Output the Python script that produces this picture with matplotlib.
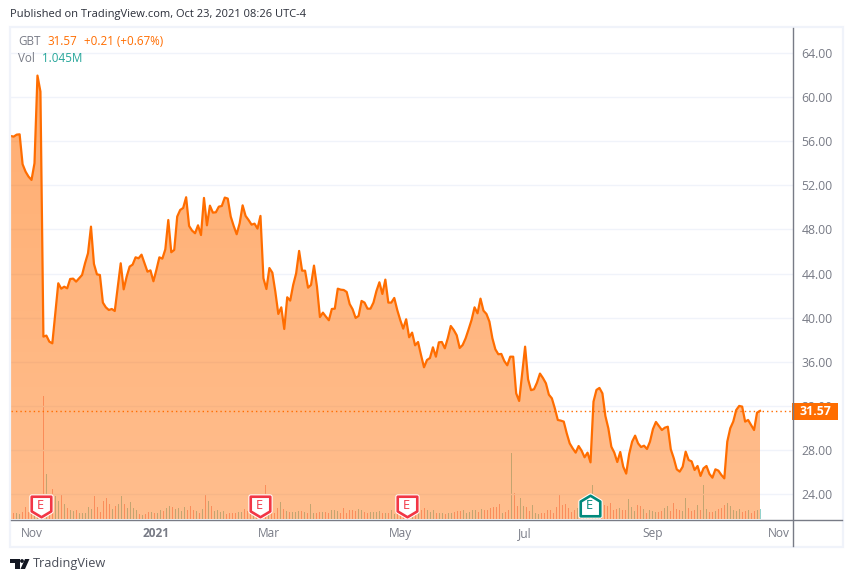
import matplotlib
matplotlib.use("Agg")
import matplotlib.pyplot as plt
import numpy as np
from matplotlib.path import Path
from matplotlib.patches import Polygon, Rectangle, Circle
from matplotlib.transforms import blended_transform_factory

# daily closes
closes = [
    56.47, 56.41, 56.59, 56.62, 53.91, 53.24, 52.79, 52.49, 54.0, 61.94, 60.49, 38.3, 38.39, 37.84, 37.69,
    40.41, 43.13, 42.64, 42.82, 42.67, 43.52, 43.55, 43.28, 43.58, 43.88, 44.94, 45.85, 48.26, 44.88, 43.94,
    43.88, 41.38, 40.95, 40.71, 40.8, 40.62, 42.82, 44.94, 42.58, 43.73, 44.64, 44.82, 45.48, 45.39, 45.72,
    44.94, 44.18, 44.3, 43.31, 44.34, 45.48, 45.36, 46.2, 48.86, 45.94, 46.15, 49.17, 49.77, 49.95, 50.92,
    48.32, 47.9, 47.66, 48.38, 47.5, 50.86, 48.38, 50.16, 49.53, 49.56, 50.07, 50.13, 50.89, 50.8, 49.17,
    48.32, 47.57, 48.56, 50.19, 49.23, 48.86, 48.44, 48.53, 48.08, 49.23, 43.58, 42.61, 44.51, 44.09, 42.37,
    40.35, 40.95, 38.99, 41.86, 41.56, 42.98, 44.03, 46.06, 44.27, 44.27, 42.73, 42.98, 44.73, 42.83, 40.07,
    40.47, 40.11, 39.78, 40.8, 40.83, 42.64, 42.55, 42.52, 42.34, 41.25, 40.77, 39.99, 40.17, 41.53, 41.38,
    40.83, 40.83, 41.38, 42.43, 43.22, 42.16, 43.46, 41.38, 41.38, 41.8, 40.71, 39.81, 39.02, 39.87, 38.24,
    38.66, 37.51, 37.81, 36.63, 35.52, 36.18, 36.36, 37.33, 36.48, 37.78, 37.81, 37.24, 38.15, 39.26, 38.9,
    38.42, 37.27, 37.54, 38.15, 38.96, 39.81, 40.95, 40.41, 41.74, 40.65, 40.35, 39.66, 38.15, 37.15, 36.7,
    36.73, 36.09, 35.7, 36.48, 36.48, 33.16, 32.47, 34.97, 37.39, 34.43, 33.45, 33.53, 34.13, 34.95, 34.55,
    34.07, 33.04, 32.71, 31.8, 30.75, 30.69, 30.6, 29.54, 28.63, 28.18, 27.79, 28.39, 27.97, 27.37, 27.79,
    26.91, 32.41, 33.47, 33.65, 33.16, 31.11, 29.99, 28.33, 27.79, 26.94, 27.85, 26.52, 25.89, 27.67, 28.79,
    29.33, 28.63, 28.3, 28.42, 28.12, 28.79, 29.93, 30.57, 30.2, 29.84, 30.05, 30.14, 28.09, 27.28, 26.28,
    26.07, 26.52, 27.88, 27.12, 27.0, 26.22, 26.58, 25.68, 26.37, 26.58, 25.86, 25.52, 26.28, 26.16, 25.77,
    25.46, 28.79, 30.0, 30.6, 31.65, 32.02, 31.96, 30.6, 30.75, 30.29, 29.84, 31.41, 31.57,
]

# volume in millions
volumes = [
    0.6, 0.63, 0.63, 0.53, 0.73, 1.23, 0.73, 0.67, 0.67, 0.5, 0.6, 12.33, 4.53, 0.6, 3.03, 2.27, 1.83, 2.43,
    1.53, 1.1, 0.9, 0.83, 0.93, 0.63, 0.63, 0.63, 1.23, 1.03, 2.33, 1.23, 0.73, 1.83, 2.13, 1.53, 1.03, 1.33,
    1.53, 2.33, 1.53, 1.13, 1.73, 1.13, 0.93, 0.53, 0.43, 0.53, 0.73, 0.73, 0.63, 0.63, 0.93, 0.83, 1.13, 1.33,
    1.23, 1.03, 1.13, 0.83, 1.23, 0.93, 1.33, 0.93, 0.83, 0.63, 1.03, 2.53, 1.83, 1.33, 0.83, 0.93, 0.73, 0.83,
    0.53, 0.63, 0.63, 0.63, 0.73, 0.73, 1.03, 0.83, 0.83, 0.93, 0.63, 0.6, 0.63, 3.43, 0.63, 0.63, 0.63, 1.13,
    1.73, 1.0, 0.8, 0.67, 0.73, 0.73, 0.83, 0.83, 0.73, 0.6, 1.5, 0.6, 0.6, 0.7, 0.73, 0.73, 0.6, 0.93, 0.93,
    0.83, 0.6, 1.13, 0.6, 0.93, 0.93, 0.83, 1.03, 0.93, 0.73, 0.63, 0.7, 0.73, 0.73, 0.83, 0.6, 0.6, 0.63, 0.93,
    0.53, 0.8, 0.6, 0.43, 0.33, 0.6, 0.53, 0.6, 1.0, 0.93, 1.13, 0.93, 0.73, 0.93, 0.6, 0.63, 0.63, 0.53, 0.6,
    0.63, 0.7, 0.8, 0.83, 0.87, 0.6, 0.7, 0.93, 0.93, 0.73, 1.03, 0.93, 0.93, 1.1, 1.23, 1.23, 1.53, 0.63, 0.73,
    0.93, 6.63, 2.63, 1.33, 2.13, 1.33, 1.23, 0.83, 1.43, 0.63, 0.53, 0.63, 0.63, 0.93, 0.93, 0.63, 1.23, 2.53,
    1.43, 1.53, 1.13, 0.73, 0.93, 1.13, 1.3, 1.0, 1.0, 1.1, 3.43, 1.1, 1.27, 0.87, 1.43, 1.33, 1.63, 0.87, 1.03,
    1.13, 0.93, 0.93, 2.03, 1.23, 0.83, 1.43, 1.33, 1.03, 0.63, 0.93, 0.83, 0.73, 0.73, 0.83, 1.13, 1.33, 0.83,
    1.63, 1.03, 0.93, 0.83, 2.13, 1.13, 0.83, 0.93, 1.4, 0.93, 3.43, 1.03, 0.73, 0.73, 0.83, 1.03, 1.13, 1.4,
    1.63, 1.33, 0.93, 0.83, 1.03, 0.73, 0.83, 0.93, 0.6, 0.83, 0.93, 1.03,
]

price_ticks = [24, 28, 32, 36, 40, 44, 48, 52, 56, 60, 64]
date_labels = ["Nov", "2021", "Mar", "May", "Jul", "Sep", "Nov"]
date_bars = [7, 48.4, 86, 130, 171.5, 214, 256]
earnings_red = [10, 83, 132]
earnings_green = [193]
last_price = 31.57

plt.rcParams["font.family"] = ["Open Sans", "DejaVu Sans"]

GREY = "#787B86"
ORANGE = "#FF6D00"
TEAL = "#26A69A"
GRID = "#F0F3FA"

fig = plt.figure(figsize=(8.52, 5.82), dpi=100)
fig.patch.set_facecolor("white")

# volume sits underneath, the price area goes on top of it
vax = fig.add_axes([11 / 852, (582 - 519) / 582, 781.5 / 852, 492 / 582])
ax = vax.twinx()
c = np.array(closes)
x = np.arange(len(closes))

# closes run from px 10.7 to px 760, the volume bars and dates are 3 px a bar
step = 749.3 / (len(closes) - 1)
k = 3 / step
x_vol = np.arange(len(volumes)) * k

vol_colors = []
for i in x_vol:
    j = min(int(round(i)), len(closes) - 1)
    vol_colors.append(TEAL if j == 0 or c[j] >= c[j - 1] else "#EF5350")
vax.bar(x_vol, volumes, width=1 / step, color=vol_colors, alpha=0.5, linewidth=0)
vax.set_ylim(0, 49.2)
vax.set_yticks([])
vax.tick_params(axis="x", length=0, pad=6, labelsize=8.6, labelcolor=GREY)
vax.set_xticks(np.array(date_bars) * k)
vax.set_xticklabels(date_labels)
vax.get_xticklabels()[1].set_fontweight("bold")

# area with a slight vertical fade
grad = np.zeros((64, 1, 4))
grad[..., :3] = matplotlib.colors.to_rgb(ORANGE)
grad[..., 3] = np.linspace(0.56, 0.45, 64)[:, None]
im = ax.imshow(grad, extent=(x[0], x[-1], 21.78, c.max()), origin="upper", aspect="auto", zorder=2)
poly = Polygon(np.r_[np.c_[x, c], [[x[-1], 21.78], [x[0], 21.78]]], transform=ax.transData, fc="none", ec="none")
ax.add_patch(poly)
im.set_clip_path(poly)

ax.plot(x, c, color=ORANGE, lw=1.6, zorder=3, solid_joinstyle="round")
ax.axhline(last_price, color=ORANGE, lw=1, ls=(0, (1, 2.2)), zorder=4)

ax.set_ylim(21.78, 66.34)
ax.set_xlim(0.3 / step, 781.8 / step)
ax.set_yticks(price_ticks)
ax.set_yticklabels(["%.2f" % p for p in price_ticks])
ax.tick_params(axis="y", length=0, pad=6.5, labelsize=8.8, labelcolor=GREY)
ax.grid(axis="y", color=GRID, lw=1)
ax.set_axisbelow(True)
for a in (ax, vax):
    for s in a.spines.values():
        s.set_visible(False)

# earnings flags
tr = blended_transform_factory(ax.transData, ax.transAxes)
flag_down = Path([(-1, 1), (1, 1), (1, -0.5), (0, -1.1), (-1, -0.5), (-1, 1)], closed=True)
flag_up = Path([(-1, -1), (1, -1), (1, 0.5), (0, 1.1), (-1, 0.5), (-1, -1)], closed=True)
for bars, shape, col in [(earnings_red, flag_down, "#F23645"), (earnings_green, flag_up, "#00897B")]:
    for b in bars:
        ax.plot([b * k], [0.0265], marker=shape, ms=15.5, mfc="white", mec="white", mew=3.4, transform=tr, zorder=5)
        ax.plot([b * k], [0.0265], marker=shape, ms=15.5, mfc="white", mec=col, mew=1.9, transform=tr, zorder=6)
        ax.text(b * k, 0.0265, "E", color=col, fontsize=9.2, ha="center", va="center", transform=tr, zorder=7)

# overlay in pixel coordinates for the chrome around the chart
ov = fig.add_axes([0, 0, 1, 1], zorder=10)
ov.set_xlim(0, 852)
ov.set_ylim(582, 0)
ov.axis("off")
ov.add_patch(Rectangle((10, 27), 833, 520, fc="none", ec=GRID, lw=1.6))
ov.plot([11, 842], [519.5, 519.5], color=GREY, lw=1)
ov.plot([792.5, 792.5], [28, 546], color=GREY, lw=1)
ov.add_patch(Rectangle((792, 403), 46, 17, fc=ORANGE, ec="none"))
ov.text(815, 411.5, "%.2f" % last_price, color="white", fontsize=8.8, fontweight="bold", ha="center", va="center")

ov.text(10, 15, "Published on TradingView.com, Oct 23, 2021 08:26 UTC-4", color="#2A2E39", fontsize=8.05, va="center")
ov.text(18, 41.5, "GBT", color=GREY, fontsize=8.4, va="center")
ov.text(47, 41.5, "31.57", color=ORANGE, fontsize=8.4, va="center")
ov.text(84, 41.5, "+0.21 (+0.67%)", color=ORANGE, fontsize=8.4, va="center")
ov.text(18, 59, "Vol", color=GREY, fontsize=8.4, va="center")
ov.text(42, 59, "1.045M", color=TEAL, fontsize=8.4, va="center")

# TradingView logo
ov.add_patch(Polygon([(10, 559), (19.5, 559), (19.5, 569), (14.5, 569), (14.5, 563), (10, 563)], fc="#131722", ec="none"))
ov.add_patch(Circle((22, 561), 1.9, fc="#131722", ec="none"))
ov.add_patch(Polygon([(25, 559), (29.5, 559), (25, 569), (20.5, 569)], fc="#131722", ec="none"))
ov.text(33, 564, "TradingView", color="#4A4E59", fontsize=9.2, va="center")

fig.savefig("out.png", dpi=100)
